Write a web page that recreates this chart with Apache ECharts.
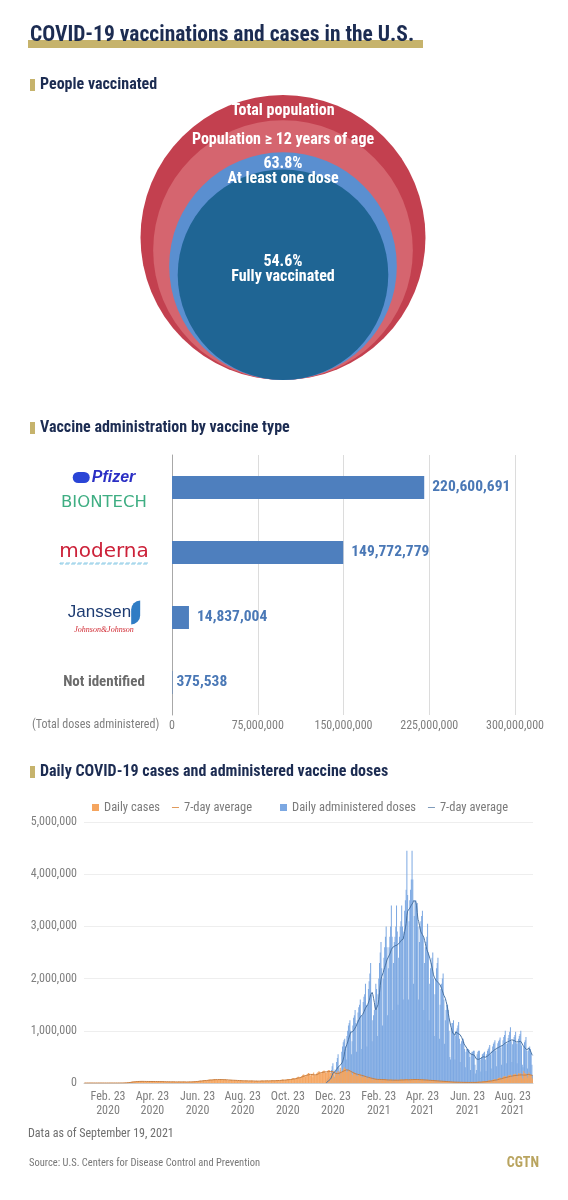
<!DOCTYPE html>
<html><head><meta charset="utf-8">
<script src="https://cdn.jsdelivr.net/npm/echarts@6/dist/echarts.min.js"></script>
<style>html,body{margin:0;padding:0;background:#fff}#c{width:568px;height:1200px}</style>
</head><body><div id="c"></div><script>
// ---------------- DATA ----------------
// People vaccinated (share of total US population, %)
const circleNames = ['Total population', 'Population ≥ 12 years of age', 'At least one dose', 'Fully vaccinated'];
const circleShares = [100, 83, 63.8, 54.6];
const circleShowPct = [false, false, true, true];

// Vaccine administration by vaccine type
const vaccineTypes = ['Pfizer-BioNTech', 'Moderna', 'Janssen', 'Not identified'];
const vaccineDoses = [220600691, 149772779, 14837004, 375538];

// Daily cases, thousands, from 2020-01-22 (one row = one week, Wed..Tue)
const casesStart = '2020-01-22';
const casesK = [
0,0,0,0,0,0,0,
0,0,0,0,0,0,0,
0,0,0,0,0,0,0,
0,0,0,0,0,0,0,
0,0,0,0,0,0,0,
0,0,0,0,0,0,0.1,
0.1,0.1,0.1,0.2,0.2,0.4,0.5,
0.6,0.8,1,1.5,1.8,2.5,4,
5,7,9,11,12,14,16,
19,22,25,28,26,24,27,
29,31,33,32,30,28,30,
32,33,32,31,27,26,28,
30,31,32,30,27,26,27,
29,31,33,30,26,24,25,
27,29,30,28,26,23,24,
26,27,28,25,22,20,22,
23,25,26,24,21,19,21,
22,24,25,23,19,18,20,
21,23,24,23,20,18,20,
21,22,23,22,19,17,19,
21,23,25,24,20,19,22,
25,28,31,32,29,28,34,
38,40,45,43,40,38,45,
50,53,56,50,46,45,55,
60,62,66,63,58,56,62,
67,71,72,68,62,58,64,
69,71,72,66,58,54,59,
66,68,67,61,52,48,52,
55,58,60,56,47,44,48,
51,53,55,50,42,38,42,
45,46,48,44,37,35,39,
43,44,46,43,36,34,37,
40,42,44,41,34,30,33,
36,38,42,40,34,31,35,
39,42,46,44,37,34,38,
41,44,48,45,38,36,40,
43,46,50,48,40,37,42,
48,52,56,53,45,42,48,
55,60,66,62,52,48,56,
62,68,78,75,62,58,68,
78,86,96,90,78,75,88,
100,110,122,118,100,98,115,
135,150,165,160,135,125,150,
165,175,190,180,150,145,165,
175,110,200,150,140,160,180,
195,210,225,215,185,175,200,
220,230,240,225,195,190,205,
235,245,250,220,190,185,200,
225,200,95,225,150,170,200,
230,200,150,290,210,200,230,
260,280,300,270,220,200,220,
235,240,245,210,180,140,160,
190,195,190,170,140,130,150,
160,165,165,140,115,110,125,
125,130,130,105,90,85,95,
100,100,100,85,70,60,65,
75,75,80,70,58,55,65,
72,75,78,65,55,52,58,
65,66,68,58,48,45,55,
60,62,64,55,45,42,52,
58,60,62,56,48,45,55,
62,65,68,62,52,50,60,
68,70,72,60,50,48,62,
72,75,78,68,56,52,64,
74,75,76,66,54,50,60,
66,68,70,60,48,45,54,
58,60,60,52,42,38,48,
50,52,52,44,35,32,40,
42,44,44,36,28,26,32,
34,35,35,28,22,20,26,
28,29,28,22,17,14,16,
20,21,20,16,12,11,15,
16,17,17,13,10,9,13,
14,15,14,11,9,8,12,
13,14,14,10,8,8,13,
15,16,12,8,7,9,20,
22,23,24,16,12,14,25,
32,34,35,24,18,22,38,
48,50,52,36,28,35,58,
68,72,75,55,40,55,85,
95,100,105,80,60,80,120,
125,130,135,100,75,105,145,
150,155,160,120,90,125,170,
165,170,175,130,95,140,185,
175,180,185,130,90,70,230,
190,180,175,135,95,150,200,
170,160,150,110,80
];

// Daily administered doses, thousands, from 2020-12-14 (one row = one week, Mon..Sun)
const dosesStart = '2020-12-14';
const dosesK = [
30,60,90,110,120,90,50,
250,320,380,150,120,260,180,
400,480,550,300,220,250,200,
600,700,780,820,850,700,450,
900,1000,1100,1150,1200,1000,550,
800,1100,1250,1300,1400,1150,600,
1200,1350,1450,1500,1600,1300,650,
1300,1550,1650,1700,1900,1500,700,
1500,1800,1950,2100,2300,1700,800,
1200,1300,1400,1500,1900,1800,900,
1700,2000,2300,2500,2700,2200,1100,
2000,2400,2600,2800,3000,2600,1300,
2200,2600,2800,3000,3400,2800,1400,
2300,2700,2800,3000,3400,2900,1500,
2400,2800,3000,3100,3400,3000,1600,
2900,3300,3500,3700,4450,3600,1600,
3100,3500,3700,3900,4450,3900,1900,
3200,3500,3500,3400,3450,3000,1600,
2700,3000,3100,3200,3300,2800,1400,
2300,2600,2700,2800,3050,2500,1200,
1900,2200,2300,2400,2500,2000,900,
1700,2000,2200,2300,2400,1900,850,
1500,1800,1900,2000,2100,1600,750,
1200,1400,1500,1500,1400,1000,500,
450,1050,1150,1150,1200,950,450,
900,1000,1050,1100,1170,850,400,
750,800,850,850,780,650,300,
600,650,650,650,630,500,250,
550,600,600,620,620,350,180,
250,550,600,620,620,450,220,
500,550,560,580,600,450,230,
550,620,650,680,730,550,280,
620,700,750,780,820,620,320,
680,760,800,830,870,680,350,
720,820,880,920,1000,750,380,
760,860,920,980,1070,800,400,
740,830,880,920,980,760,380,
760,850,900,940,1000,720,350,
300,700,780,820,880,620,280,
620,680,700,650,560,350,150
];

// x-axis tick dates of the daily chart
const tickDates = ['2020-02-23','2020-04-23','2020-06-23','2020-08-23','2020-10-23','2020-12-23','2021-02-23','2021-04-23','2021-06-23','2021-08-23'];
const monthAbbr = ['Jan.','Feb.','Mar.','Apr.','May','Jun.','Jul.','Aug.','Sep.','Oct.','Nov.','Dec.'];

// ---------------- BUILD ----------------
const FONT = "'Roboto Condensed','DejaVu Sans Condensed',Roboto,sans-serif";
const NAVY = '#1c2c52', GOLD = '#c6b36c', GRAY = '#7f7f7f';
const UNIT = 1000;

const dates = [];
const t0 = Date.parse(casesStart + 'T00:00:00Z');
for (let i = 0; i < casesK.length; i++) dates.push(new Date(t0 + i * 864e5).toISOString().slice(0, 10));
const dStart = dates.indexOf(dosesStart);
const casesSeries = casesK.map(v => v * UNIT);
const dosesSeries = dates.map((d, i) => (i >= dStart && i - dStart < dosesK.length) ? dosesK[i - dStart] * UNIT : null);
function trailingAvg(arr, start) {
  return arr.map((v, i) => {
    if (i < start || v == null) return null;
    let s = 0;
    for (let k = i - 6; k <= i; k++) if (k >= start && arr[k] != null) s += arr[k];
    return s / 7;
  });
}
const casesAvg = trailingAvg(casesSeries, 0);
const dosesAvg = trailingAvg(dosesSeries, dStart);
const tickSet = new Set(tickDates);
const tickFn = (idx, val) => tickSet.has(val);
const fmtDate = v => { const [y, m, d] = v.split('-'); return monthAbbr[+m - 1] + ' ' + (+d) + '\n' + y; };

const CIRCLE_D = 285;
const circleColors = ['#c3404f', '#d5656f', '#5a8fd0', '#1f6594'];
const circleLabelTop = [16, 20, 19, null];
const LINE_ICON = 'path://M0,0L0.01,0M0,3H7V4H0ZM7,7L6.99,7';

const logoLabels = {
  'Pfizer-BioNTech': '{sw| }{pf|Pfizer}\n{bt|BIONTECH}',
  'Moderna': '{md|moderna}\n{mdl|}',
  'Janssen': '{js|Janssen}{jw| }\n{jj|Johnson&Johnson}',
  'Not identified': '{ni|Not identified}'
};

function header(y, text) {
  return [
    {type: 'rect', shape: {x: 30, y: y - 6, width: 5, height: 12}, style: {fill: GOLD}},
    {type: 'text', x: 40, y: y, style: {text: text, fill: NAVY, font: 'bold 16px ' + FONT, verticalAlign: 'middle'}}
  ];
}

const chart = echarts.init(document.getElementById('c'), null, {renderer: 'canvas', width: 568, height: 1200});
const option = {
  animation: false,
  backgroundColor: '#ffffff',
  textStyle: {fontFamily: FONT},
  grid: [
    {left: 140, right: 142, top: 95, bottom: 820},
    {left: 172, right: 53, top: 455, bottom: 485},
    {left: 84, right: 35, top: 822, bottom: 117}
  ],
  xAxis: [
    {gridIndex: 0, type: 'value', min: -1, max: 1, show: false},
    {gridIndex: 1, type: 'value', min: 0, max: 300000000, interval: 75000000,
      axisLine: {show: false}, axisTick: {show: false},
      splitLine: {lineStyle: {color: '#dcdcdc'}},
      axisLabel: {color: GRAY, fontSize: 12, margin: 5, formatter: v => v.toLocaleString('en-US')}},
    {gridIndex: 2, type: 'category', data: dates, boundaryGap: true,
      axisLine: {lineStyle: {color: '#cfcfcf'}},
      axisTick: {alignWithLabel: true, interval: tickFn, length: 5, lineStyle: {color: '#cfcfcf'}},
      axisLabel: {interval: tickFn, formatter: fmtDate, color: GRAY, fontSize: 12, lineHeight: 14, margin: 7, hideOverlap: false}}
  ],
  yAxis: [
    {gridIndex: 0, type: 'value', min: 0, max: 1, show: false},
    {gridIndex: 1, type: 'category', data: vaccineTypes, inverse: true,
      axisLine: {lineStyle: {color: '#a8a8a8'}}, axisTick: {show: false},
      axisLabel: {align: 'center', margin: 68, formatter: v => logoLabels[v],
        rich: {
          sw: {width: 17, height: 11, backgroundColor: '#2a45d6', borderRadius: 6},
          pf: {color: '#2b2fc4', fontSize: 16, fontWeight: 'bold', fontStyle: 'italic', fontFamily: 'Liberation Sans', padding: [0, 0, 0, 2], lineHeight: 30},
          bt: {color: '#3fae83', fontSize: 16.5, fontFamily: 'DejaVu Sans', lineHeight: 20},
          md: {color: '#cc2139', fontSize: 20, fontFamily: 'DejaVu Sans', lineHeight: 22},
          mdl: {width: 88, height: 1, borderColor: '#8ccbe6', borderWidth: 1, borderType: 'dashed'},
          js: {color: '#1e3c72', fontSize: 17, fontFamily: 'Liberation Sans', lineHeight: 22},
          jw: {width: 9, height: 24, backgroundColor: '#2f7cc4', borderRadius: [14, 0, 14, 0]},
          jj: {color: '#d0262f', fontSize: 8, fontStyle: 'italic', fontFamily: 'Liberation Serif', lineHeight: 10},
          ni: {color: '#6b6b6b', fontSize: 15, fontWeight: 'bold', fontFamily: FONT}
        }}},
    {gridIndex: 2, type: 'value', min: 0, max: 5000000, interval: 1000000,
      axisLine: {show: false}, axisTick: {show: false},
      splitLine: {lineStyle: {color: '#eeeeee'}},
      axisLabel: {color: GRAY, fontSize: 12, margin: 7, formatter: v => v.toLocaleString('en-US')}}
  ],
  legend: [
    {left: 87, top: 796, itemWidth: 7, itemHeight: 7, itemGap: 12,
      textStyle: {color: '#7a7a7a', fontSize: 12.5, fontFamily: FONT},
      data: [{name: 'Daily cases', icon: 'rect'}, {name: 'casesAvg', icon: LINE_ICON}],
      formatter: n => n.endsWith('Avg') ? '7-day average' : n},
    {left: 275, top: 796, itemWidth: 7, itemHeight: 7, itemGap: 12,
      textStyle: {color: '#7a7a7a', fontSize: 12.5, fontFamily: FONT},
      data: [{name: 'Daily administered doses', icon: 'rect'}, {name: 'dosesAvg', icon: LINE_ICON}],
      formatter: n => n.endsWith('Avg') ? '7-day average' : n}
  ],
  series: [
    {type: 'scatter', xAxisIndex: 0, yAxisIndex: 0, silent: true,
      data: circleShares.map((s, i) => {
        const size = Math.sqrt(s / 100) * CIRCLE_D;
        const txt = circleShowPct[i] ? s.toFixed(1) + '%\n' + circleNames[i] : circleNames[i];
        return {
          value: [0, 0], symbol: 'circle', symbolSize: size, symbolOffset: [0, '-50%'],
          itemStyle: {color: circleColors[i], opacity: 1},
          label: {show: true, formatter: txt, color: '#ffffff', fontWeight: 'bold', fontSize: 16, lineHeight: 15,
            fontFamily: FONT, align: 'center', verticalAlign: 'middle',
            position: circleLabelTop[i] == null ? 'inside' : ['50%', circleLabelTop[i]],
            offset: circleLabelTop[i] == null ? [0, -5] : [0, 0]}
        };
      })},
    {type: 'bar', xAxisIndex: 1, yAxisIndex: 1, barWidth: 23, silent: true,
      data: vaccineDoses.map(v => ({value: v, label: {distance: v < 1e6 ? 4 : 8}})),
      itemStyle: {color: '#4e7fbe'},
      label: {show: true, position: 'right', color: '#4a78b6', fontWeight: 'bold', fontSize: 15.5, fontFamily: FONT,
        formatter: p => p.value.toLocaleString('en-US')}},
    {name: 'Daily administered doses', type: 'bar', xAxisIndex: 2, yAxisIndex: 2, data: dosesSeries,
      barGap: '-100%', barCategoryGap: '0%', itemStyle: {color: '#7ca8e2'}, silent: true},
    {name: 'Daily cases', type: 'bar', xAxisIndex: 2, yAxisIndex: 2, data: casesSeries,
      barGap: '-100%', barCategoryGap: '0%', itemStyle: {color: '#f5a55f'}, silent: true},
    {name: 'casesAvg', type: 'line', xAxisIndex: 2, yAxisIndex: 2, data: casesAvg, symbol: 'none',
      lineStyle: {color: '#c98043', width: 1}, itemStyle: {color: '#e09a5c'}, silent: true},
    {name: 'dosesAvg', type: 'line', xAxisIndex: 2, yAxisIndex: 2, data: dosesAvg, symbol: 'none',
      lineStyle: {color: '#4a73a3', width: 1}, itemStyle: {color: '#7f9bbb'}, silent: true}
  ],
  graphic: [
    {type: 'rect', shape: {x: 28, y: 40, width: 395, height: 8}, style: {fill: GOLD}},
    {type: 'text', x: 30, y: 36, style: {text: 'COVID-19 vaccinations and cases in the U.S.', fill: NAVY, font: 'bold 21.5px ' + FONT, verticalAlign: 'middle'}},
    ...header(85, 'People vaccinated'),
    ...header(428, 'Vaccine administration by vaccine type'),
    ...header(772, 'Daily COVID-19 cases and administered vaccine doses'),
    {type: 'text', x: 32, y: 725, style: {text: '(Total doses administered)', fill: GRAY, font: '12px ' + FONT, verticalAlign: 'middle'}},
    {type: 'text', x: 28, y: 1134, style: {text: 'Data as of September 19, 2021', fill: '#6f6f6f', font: '12px ' + FONT, verticalAlign: 'middle'}},
    {type: 'text', x: 29, y: 1163, style: {text: 'Source: U.S. Centers for Disease Control and Prevention', fill: '#777777', font: '10.5px ' + FONT, verticalAlign: 'middle'}},
    {type: 'text', x: 539, y: 1163, style: {text: 'CGTN', fill: '#b9a45f', font: 'bold 14px ' + FONT, align: 'right', verticalAlign: 'middle'}}
  ]
};
chart.setOption(option);
</script></body></html>
